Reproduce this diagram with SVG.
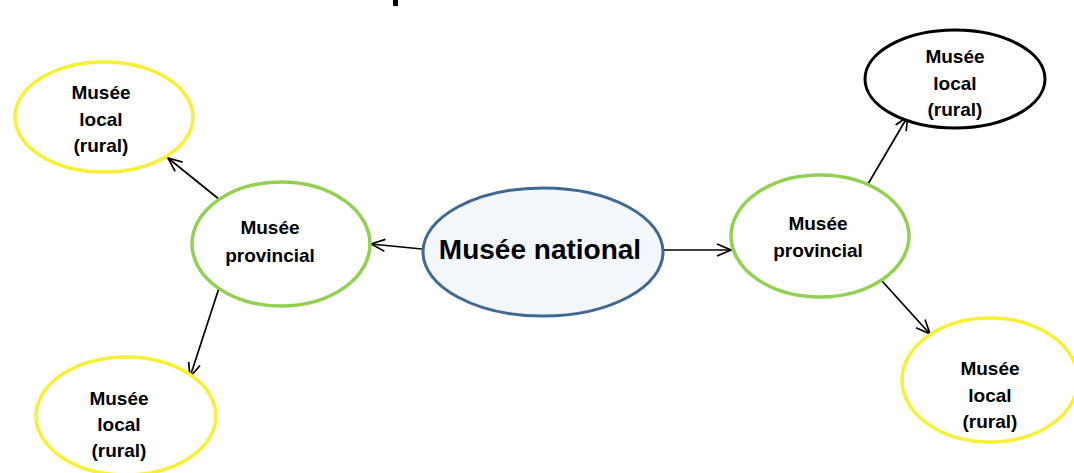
<svg xmlns="http://www.w3.org/2000/svg" width="1074" height="473" viewBox="0 0 1074 473">
  <style>
    .lbl { font-family: "Liberation Sans", Arial, sans-serif; font-weight: bold; font-size: 19px; fill: #000; text-anchor: middle; }
    .big { font-size: 28px; }
    .yellow { fill: #fff; stroke: #f8f032; stroke-width: 3.5; }
    .green { fill: #fff; stroke: #92d050; stroke-width: 3.5; }
    .black { fill: #fff; stroke: #000; stroke-width: 3; }
    .blue { fill: #f3f7fb; stroke: #3f6894; stroke-width: 3; }
    .conn { stroke: #000; stroke-width: 1.7; fill: none; marker-end: url(#arr); }
  </style>
  <defs>
    <marker id="arr" markerUnits="userSpaceOnUse" markerWidth="16" markerHeight="16" viewBox="0 0 16 16" refX="15" refY="8" orient="auto">
      <path d="M1,2 L15,8 L1,14" fill="none" stroke="#000" stroke-width="1.7"/>
    </marker>
  </defs>
  <rect x="393" y="0" width="5" height="6" fill="#000"/>
  <g id="connectors">
    <line class="conn" x1="422" y1="249" x2="371" y2="244"/>
    <line class="conn" x1="220" y1="200" x2="168" y2="158"/>
    <line class="conn" x1="219" y1="288" x2="190" y2="377"/>
    <line class="conn" x1="663" y1="250" x2="731" y2="250"/>
    <line class="conn" x1="868" y1="184" x2="908" y2="116"/>
    <line class="conn" x1="882" y1="281" x2="930" y2="334"/>
  </g>
  <g id="national">
    <ellipse class="blue" cx="543" cy="252" rx="120" ry="64"/>
    <text class="lbl big" x="540" y="259">Musée national</text>
  </g>
  <g id="prov-left">
    <ellipse class="green" cx="281" cy="244" rx="89" ry="62"/>
    <text class="lbl" x="270" y="234">Musée</text>
    <text class="lbl" x="270" y="262">provincial</text>
  </g>
  <g id="prov-right">
    <ellipse class="green" cx="820" cy="236" rx="89" ry="61"/>
    <text class="lbl" x="818" y="230">Musée</text>
    <text class="lbl" x="818" y="257">provincial</text>
  </g>
  <g id="local-left-top">
    <ellipse class="yellow" cx="104" cy="117" rx="89" ry="55"/>
    <text class="lbl" x="101" y="99">Musée</text>
    <text class="lbl" x="101" y="126">local</text>
    <text class="lbl" x="101" y="152">(rural)</text>
  </g>
  <g id="local-left-bottom">
    <ellipse class="yellow" cx="126" cy="416" rx="90" ry="59"/>
    <text class="lbl" x="119" y="405">Musée</text>
    <text class="lbl" x="119" y="431">local</text>
    <text class="lbl" x="119" y="457">(rural)</text>
  </g>
  <g id="local-right-top">
    <ellipse class="black" cx="955" cy="79" rx="90" ry="49"/>
    <text class="lbl" x="955" y="63">Musée</text>
    <text class="lbl" x="955" y="90">local</text>
    <text class="lbl" x="955" y="116">(rural)</text>
  </g>
  <g id="local-right-bottom">
    <ellipse class="yellow" cx="990" cy="380" rx="88" ry="62"/>
    <text class="lbl" x="990" y="375">Musée</text>
    <text class="lbl" x="990" y="402">local</text>
    <text class="lbl" x="990" y="428">(rural)</text>
  </g>
</svg>
